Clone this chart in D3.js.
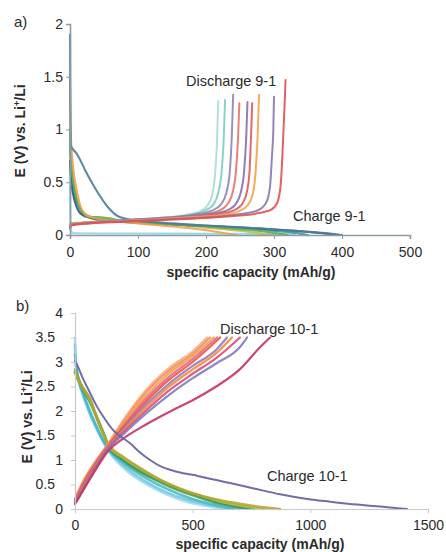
<!DOCTYPE html>
<html><head><meta charset="utf-8">
<script src="https://cdn.jsdelivr.net/npm/d3@7"></script>
<style>
body{margin:0;background:#fff;}
text{font-family:"Liberation Sans",Arial,Helvetica,sans-serif;fill:#2a2a2a;}
</style></head>
<body><svg id="c" width="446" height="552"></svg>
<script>
// ---------- Panel a data ----------
const xTicksA = [0,100,200,300,400,500];
const yTicksA = [0,0.5,1,1.5,2];
const dischargeA = [
 [[0,0.07],[2,0.1],[30,0.12],[80,0.14],[130,0.16],[170,0.19],[190,0.22],[202,0.28],[209,0.38],[213,0.55],[216,0.85],[218,1.27]],
 [[0,0.08],[2,0.1],[30,0.12],[80,0.14],[130,0.16],[175,0.19],[198,0.23],[211,0.29],[218,0.4],[223,0.6],[226,0.9],[228,1.28]],
 [[0,0.09],[2,0.11],[30,0.12],[80,0.14],[130,0.16],[180,0.19],[208,0.23],[222,0.29],[230,0.4],[235,0.6],[238,0.95],[240,1.33]],
 [[0,0.08],[2,0.1],[30,0.12],[80,0.14],[130,0.155],[180,0.18],[215,0.22],[230,0.28],[239,0.4],[244,0.6],[247,0.9],[249,1.25]],
 [[0,0.1],[2,0.11],[30,0.12],[80,0.14],[130,0.155],[180,0.18],[225,0.22],[242,0.28],[251,0.4],[256,0.6],[259,0.9],[261,1.26]],
 [[0,0.07],[2,0.1],[30,0.115],[80,0.135],[130,0.15],[180,0.17],[230,0.21],[250,0.27],[259,0.38],[264,0.6],[266,0.9],[268,1.25]],
 [[0,0.09],[2,0.11],[30,0.12],[80,0.135],[130,0.15],[180,0.17],[235,0.2],[258,0.26],[268,0.37],[273,0.6],[276,0.95],[278,1.33]],
 [[0,0.08],[2,0.1],[30,0.115],[80,0.13],[130,0.145],[180,0.16],[240,0.19],[275,0.23],[288,0.3],[294,0.45],[297,0.75],[299,1.0],[300,1.31]],
 [[0,0.06],[2,0.09],[30,0.11],[80,0.125],[130,0.14],[180,0.155],[240,0.18],[280,0.21],[296,0.24],[305,0.31],[310,0.49],[312,0.71],[314,1.0],[316,1.3],[317,1.47]]
];
const chargeA = [
 [[0,0.8],[0.3,0.3],[1,0.05],[5,0.016],[100,0.014],[200,0.012],[300,0.01],[330,0.008]],
 [[0,0.9],[2,0.68],[6,0.45],[12,0.3],[20,0.21],[35,0.165],[60,0.14],[100,0.12],[150,0.1],[200,0.07],[250,0.04],[285,0.01],[300,0]],
 [[0,0.85],[2,0.62],[6,0.42],[12,0.28],[20,0.2],[35,0.16],[60,0.14],[100,0.12],[160,0.1],[220,0.08],[280,0.05],[330,0.02],[350,0]],
 [[0,0.7],[2,0.5],[8,0.3],[16,0.2],[30,0.16],[60,0.13],[120,0.11],[200,0.085],[280,0.06],[340,0.035],[380,0.01],[395,0]],
 [[0,1.0],[1,0.78],[4,0.55],[10,0.35],[18,0.22],[28,0.17],[40,0.17],[55,0.16],[80,0.13],[120,0.11],[180,0.09],[240,0.06],[290,0.03],[320,0]],
 [[0,1.48],[0.4,1.2],[1.2,0.95],[5,0.62],[10,0.42],[15,0.28],[22,0.2],[30,0.17],[45,0.15],[70,0.13],[100,0.11],[150,0.08],[200,0.045],[230,0.015],[245,0]],
 [[0,1.9],[0.4,1.3],[1,0.85],[10,0.77],[25,0.58],[41,0.4],[55,0.27],[70,0.18],[90,0.145],[130,0.12],[200,0.09],[260,0.07],[320,0.045],[370,0.02],[400,0]]
];
// ---------- Panel b data ----------
const xTicksB = [0,500,1000,1500];
const yTicksB = [0,0.5,1,1.5,2,2.5,3,3.5,4];
const dischargeB = [
 [[0,0.22],[40,0.62],[90,1.0],[140,1.33],[200,1.78],[300,2.42],[400,2.88],[500,3.22],[561,3.5]],
 [[0,0.2],[40,0.6],[90,0.98],[140,1.31],[200,1.74],[300,2.37],[400,2.83],[500,3.17],[574,3.5]],
 [[0,0.18],[40,0.58],[90,0.96],[140,1.3],[200,1.7],[300,2.3],[400,2.77],[500,3.12],[590,3.5]],
 [[0,0.17],[40,0.56],[90,0.95],[140,1.29],[200,1.66],[300,2.24],[400,2.7],[500,3.06],[604,3.5]],
 [[0,0.16],[40,0.55],[90,0.94],[140,1.28],[200,1.63],[300,2.18],[400,2.64],[500,3.0],[617,3.5]],
 [[0,0.15],[40,0.52],[90,0.92],[140,1.27],[200,1.6],[300,2.12],[400,2.56],[500,2.92],[600,3.25],[646,3.5]],
 [[0,0.14],[40,0.5],[90,0.9],[140,1.26],[200,1.57],[300,2.06],[400,2.5],[500,2.85],[600,3.18],[667,3.5]],
 [[0,0.13],[40,0.48],[90,0.88],[140,1.24],[200,1.54],[300,2.0],[400,2.42],[500,2.76],[600,3.08],[701,3.5]],
 [[0,0.12],[40,0.45],[90,0.85],[140,1.22],[200,1.5],[300,1.94],[400,2.33],[500,2.67],[600,2.97],[700,3.3],[731,3.5]],
 [[0,0.1],[40,0.42],[90,0.82],[140,1.18],[200,1.42],[300,1.72],[400,1.98],[500,2.22],[600,2.5],[700,2.85],[786,3.3],[829,3.5]]
];
const chargeB = [
 [[0,3.5],[2,3.15],[8,2.8],[25,2.45],[50,2.1],[80,1.75],[110,1.45],[140,1.2],[180,0.96],[230,0.74],[300,0.52],[380,0.32],[460,0.17],[550,0.07],[610,0.02],[650,0]],
 [[0,3.35],[3,3.0],[12,2.7],[30,2.4],[55,2.05],[85,1.72],[115,1.43],[140,1.22],[185,0.98],[235,0.77],[305,0.55],[385,0.35],[470,0.2],[560,0.09],[630,0.03],[672,0]],
 [[0,3.15],[5,2.9],[18,2.6],[40,2.3],[65,1.98],[95,1.65],[120,1.4],[140,1.24],[190,1.0],[245,0.8],[320,0.58],[400,0.39],[490,0.22],[580,0.1],[650,0.03],[700,0]],
 [[0,2.85],[10,2.72],[30,2.5],[64,2.2],[99,1.81],[128,1.47],[142,1.27],[190,1.04],[250,0.83],[330,0.62],[410,0.44],[500,0.28],[590,0.14],[680,0.05],[744,0]],
 [[0,2.8],[10,2.68],[30,2.47],[64,2.18],[99,1.78],[128,1.45],[142,1.27],[195,1.04],[255,0.84],[335,0.63],[420,0.45],[510,0.29],[600,0.15],[690,0.05],[760,0]],
 [[0,2.8],[20,2.58],[64,2.22],[100,1.76],[125,1.48],[143,1.28],[200,1.06],[262,0.86],[350,0.62],[440,0.43],[530,0.28],[620,0.15],[710,0.06],[800,0]],
 [[0,2.78],[20,2.58],[64,2.25],[100,1.77],[121,1.52],[145,1.3],[200,1.08],[262,0.88],[361,0.6],[446,0.41],[550,0.25],[659,0.14],[760,0.06],[830,0.02],[871,0]]
];
const chargeB_long = [[0,3.02],[10,2.93],[35,2.65],[64,2.37],[90,2.12],[121,1.88],[162,1.61],[200,1.46],[234,1.34],[275,1.16],[319,1.0],[360,0.88],[404,0.8],[460,0.73],[518,0.68],[590,0.6],[659,0.53],[760,0.42],[871,0.3],[980,0.21],[1084,0.15],[1200,0.09],[1296,0.05],[1370,0.015],[1411,0]];

// ---------- Styles ----------
const colDischargeA = ["#aadcd6","#7ccdc4","#8c88b2","#e8736a","#8670ae","#dc5a5e","#f2a444","#8a78ae","#e05050"];
const colChargeA = ["#8fd6e4","#c4bc48","#3a9c9a","#2a5878","#5fae5a","#f2a04c","#4d7c98"];
const colDischargeB = ["#f6b27a","#f28b6c","#f3a23c","#e8608a","#e8553e","#9a78b8","#f08a3a","#e04a72","#7c7cc0","#c83262"];
const colChargeB = ["#9ad8ee","#6cc6e2","#42b4c4","#4aa84e","#2a9070","#a8c440","#b4a02c"];
const colChargeBLong = "#6a64a8";

const svg = d3.select("#c");

function panel(cfg){
  const x = d3.scaleLinear().domain(cfg.xd).range(cfg.xr);
  const y = d3.scaleLinear().domain(cfg.yd).range(cfg.yr);
  const g = svg.append("g");
  const line = d3.line().x(d=>x(d[0])).y(d=>y(d[1])).curve(d3.curveMonotoneX);
  cfg.layers.forEach(L=>{
    L.data.forEach((s,i)=>{
      g.append("path").attr("d",line(s)).attr("fill","none")
       .attr("stroke",Array.isArray(L.col)?L.col[i]:L.col)
       .attr("stroke-width",L.w).attr("stroke-opacity",L.op)
       .attr("stroke-linejoin","round").attr("stroke-linecap","round");
    });
  });
  const xa = g.append("g").attr("transform",`translate(0,${cfg.yr[0]})`)
    .call(d3.axisBottom(x).tickValues(cfg.xt).tickSize(4).tickPadding(cfg.xpad).tickFormat(d3.format("d")));
  const ya = g.append("g").attr("transform",`translate(${cfg.xr[0]},0)`)
    .call(d3.axisLeft(y).tickValues(cfg.yt).tickSize(4).tickPadding(cfg.ypad).tickFormat(d=>String(d)));
  [xa,ya].forEach(a=>{
    a.select(".domain").attr("stroke",cfg.axisCol).attr("stroke-width",cfg.axisW);
    a.selectAll(".tick line").attr("stroke",cfg.axisCol);
    a.selectAll(".tick text").style("font-size","14px").attr("fill","#2a2a2a");
  });
  if(cfg.decShift){
    ya.selectAll(".tick text").attr("x",d=>String(d).includes(".")?-(cfg.ypad+4+cfg.decShift):-(cfg.ypad+4));
  }
  cfg.labels.forEach(l=>{
    g.append("text").attr("x",l[1]).attr("y",l[2]).style("font-size","14.5px").text(l[0]);
  });
  g.append("text").attr("x",cfg.tag[1]).attr("y",cfg.tag[2]).style("font-size","15px").text(cfg.tag[0]);
  g.append("text").attr("x",cfg.xtitle[0]).attr("y",cfg.xtitle[1]).attr("text-anchor","middle")
    .style("font-size","14px").style("font-weight","bold").text("specific capacity (mAh/g)");
  const yt = g.append("text").attr("transform",`translate(${cfg.ytitle[0]},${cfg.ytitle[1]}) rotate(-90)`)
    .attr("text-anchor","middle").style("font-size","14px").style("font-weight","bold");
  yt.append("tspan").text("E (V) vs. Li");
  yt.append("tspan").attr("dy",-5).style("font-size","9px").text("+");
  yt.append("tspan").attr("dy",5).text("/Li");
}

panel({
  xd:[0,500], xr:[70,410], yd:[0,2], yr:[235,24],
  xt:xTicksA, yt:yTicksA, xpad:8, ypad:3, axisCol:"#8d9ba6", axisW:1.6,
  layers:[
    {data:chargeA, col:colChargeA, w:2.1, op:0.9},
    {data:dischargeA, col:colDischargeA, w:2.0, op:0.9}
  ],
  labels:[["Discharge 9-1",186,86],["Charge 9-1",293,221]],
  tag:["a)",14,27], xtitle:[251,277], ytitle:[25,131]
});

panel({
  xd:[0,1500], xr:[75,428], yd:[0,4], yr:[509,313],
  xt:xTicksB, yt:yTicksB, xpad:7, ypad:8, axisCol:"#c9c9c9", axisW:1.2, decShift:8,
  layers:[
    {data:chargeB, col:colChargeB, w:2.6, op:0.85},
    {data:dischargeB, col:colDischargeB, w:2.2, op:0.9},
    {data:[chargeB_long], col:colChargeBLong, w:2.0, op:0.95}
  ],
  labels:[["Discharge 10-1",220,334],["Charge 10-1",267,481]],
  tag:["b)",16,311], xtitle:[260,549], ytitle:[32,417]
});
</script></body></html>
